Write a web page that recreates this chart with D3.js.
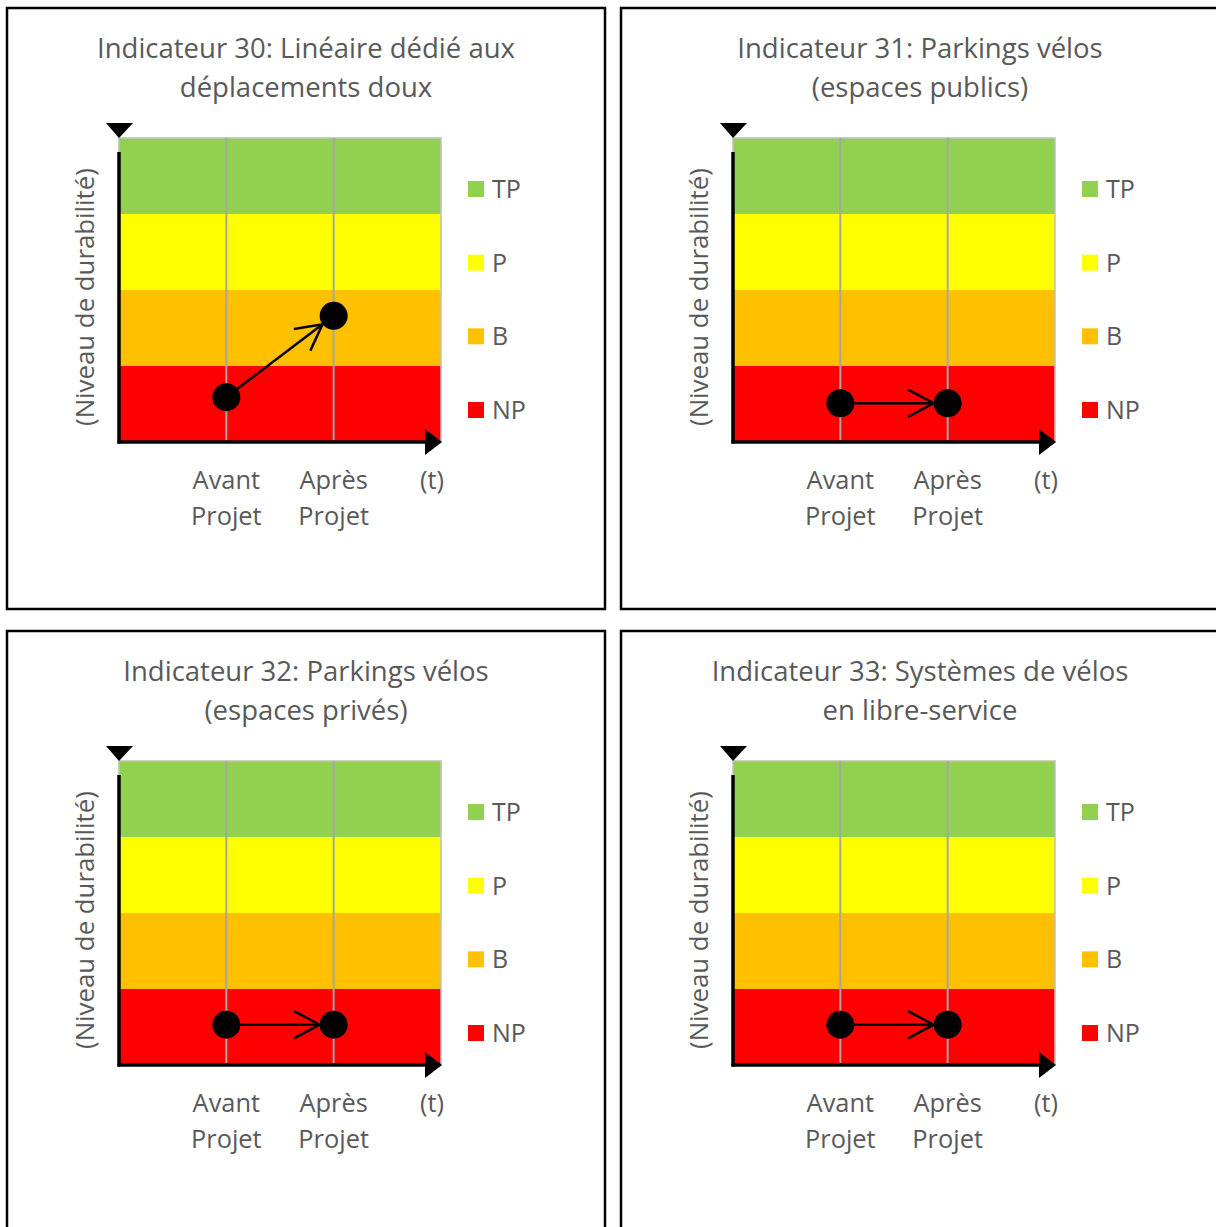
<!DOCTYPE html>
<html>
<head>
<meta charset="utf-8">
<script src="https://cdn.jsdelivr.net/npm/d3@7"></script>
<style>
  body { margin: 0; background: #fff; }
  svg text { font-family: "Open Sans", "Noto Sans", sans-serif; fill: #595959; }
</style>
</head>
<body>
<div id="chart"></div>
<script>
// Panel titles (two lines each)
const titles = [
  ["Indicateur 30: Linéaire dédié aux", "déplacements doux"],
  ["Indicateur 31: Parkings vélos", "(espaces publics)"],
  ["Indicateur 32: Parkings vélos", "(espaces privés)"],
  ["Indicateur 33: Systèmes de vélos", "en libre-service"]
];

// Sustainability levels, bottom to top
const levels = ["NP", "B", "P", "TP"];
const levelColors = ["#FF0000", "#FFC000", "#FFFF00", "#92D050"];

// Time axis
const periods = [["Avant", "Projet"], ["Après", "Projet"]];
const timeLabel = "(t)";

// Level reached before / after project (0..4 scale, one band per level)
const avantValues = [0.59, 0.51, 0.53, 0.53];
const apresValues = [1.66, 0.51, 0.53, 0.53];

const width = 1216, height = 1227;
const panelW = 598, panelH = 601;
const panelOrigins = [[7, 8], [621, 8], [7, 631], [621, 631]];

const svg = d3.select("#chart").append("svg")
  .attr("width", width)
  .attr("height", height);

// scales shared by every panel (panel-local coordinates)
const plot = { left: 112, right: 434, top: 130, bottom: 434 };
const x = d3.scaleLinear().domain([0, 3]).range([plot.left, plot.right]);
const y = d3.scaleLinear().domain([0, levels.length]).range([plot.bottom, plot.top]);
const legendY = d3.scalePoint().domain(d3.reverse(levels)).range([181, 402]);

titles.forEach(function(title, i) {
  const g = svg.append("g")
    .attr("transform", `translate(${panelOrigins[i][0]}, ${panelOrigins[i][1]})`);

  // panel frame
  g.append("rect")
    .attr("width", panelW)
    .attr("height", panelH)
    .attr("fill", "#fff")
    .attr("stroke", "#000")
    .attr("stroke-width", 2.5);

  // title
  g.append("text")
    .attr("x", panelW / 2)
    .attr("text-anchor", "middle")
    .style("font-size", "27.5px")
    .selectAll("tspan")
    .data(title)
    .enter().append("tspan")
    .attr("x", panelW / 2)
    .attr("y", (d, j) => 50 + j * 39)
    .text(d => d);

  // coloured bands
  g.append("g")
    .selectAll("rect")
    .data(levels)
    .enter().append("rect")
    .attr("x", x(0))
    .attr("y", (d, j) => y(j + 1))
    .attr("width", x(3) - x(0))
    .attr("height", (d, j) => y(j) - y(j + 1))
    .attr("fill", (d, j) => levelColors[j]);

  // plot outline (light gray)
  g.append("rect")
    .attr("x", x(0))
    .attr("y", y(levels.length))
    .attr("width", x(3) - x(0))
    .attr("height", y(0) - y(levels.length))
    .attr("fill", "none")
    .attr("stroke", "#BFBFBF")
    .attr("stroke-width", 1.5);

  // vertical grid lines
  g.append("g")
    .selectAll("line")
    .data([1, 2])
    .enter().append("line")
    .attr("x1", d => x(d))
    .attr("x2", d => x(d))
    .attr("y1", y(levels.length))
    .attr("y2", y(0))
    .attr("stroke", "#A6A6A6")
    .attr("stroke-width", 2);

  // y axis with triangle on top
  g.append("line")
    .attr("x1", x(0)).attr("x2", x(0))
    .attr("y1", y(0) + 1.5).attr("y2", y(levels.length) + 14)
    .attr("stroke", "#000").attr("stroke-width", 3.5);
  g.append("path")
    .attr("d", `M${x(0) - 13},${y(levels.length) - 15}L${x(0) + 14},${y(levels.length) - 15}L${x(0)},${y(levels.length)}Z`)
    .attr("fill", "#000");

  // x axis with arrow head
  g.append("line")
    .attr("x1", x(0) - 1.5).attr("x2", x(3) - 14)
    .attr("y1", y(0)).attr("y2", y(0))
    .attr("stroke", "#000").attr("stroke-width", 3.5);
  g.append("path")
    .attr("d", `M${x(3) - 16},${y(0) - 13}L${x(3) - 16},${y(0) + 13}L${x(3) + 1},${y(0)}Z`)
    .attr("fill", "#000");

  // y axis title
  g.append("text")
    .attr("transform", `translate(78, ${(y(0) + y(levels.length)) / 2 + 7}) rotate(-90)`)
    .attr("text-anchor", "middle")
    .attr("dy", "0.35em")
    .style("font-size", "25.8px")
    .text("(Niveau de durabilité)");

  // x labels
  periods.forEach(function(p, k) {
    g.append("text")
      .attr("text-anchor", "middle")
      .style("font-size", "25.4px")
      .selectAll("tspan")
      .data(p)
      .enter().append("tspan")
      .attr("x", x(k + 1))
      .attr("y", (d, j) => 481 + j * 36)
      .text(d => d);
  });
  g.append("text")
    .attr("x", x(3) + 3)
    .attr("y", 481)
    .attr("text-anchor", "end")
    .style("font-size", "25.4px")
    .text(timeLabel);

  // legend
  const leg = g.append("g")
    .selectAll("g")
    .data(levels)
    .enter().append("g")
    .attr("transform", d => `translate(461, ${legendY(d)})`);
  leg.append("rect")
    .attr("y", -8)
    .attr("width", 16)
    .attr("height", 16)
    .attr("fill", (d, j) => levelColors[j]);
  leg.append("text")
    .attr("x", 24)
    .attr("dy", "0.36em")
    .style("font-size", "25px")
    .text(d => d);

  // arrow from "avant" to "apres"
  const p1 = [x(1), y(avantValues[i])];
  const p2 = [x(2), y(apresValues[i])];
  const r = 14;
  const dx = p2[0] - p1[0], dy = p2[1] - p1[1];
  const len = Math.sqrt(dx * dx + dy * dy);
  const ux = dx / len, uy = dy / len;
  const tip = [p2[0] - ux * r, p2[1] - uy * r];
  const a = 28 * Math.PI / 180, arm = 29;
  const rot = (s) => [
    tip[0] - arm * (ux * Math.cos(s * a) - uy * Math.sin(s * a)),
    tip[1] - arm * (ux * Math.sin(s * a) + uy * Math.cos(s * a))
  ];
  const w1 = rot(1), w2 = rot(-1);

  g.append("line")
    .attr("x1", p1[0]).attr("y1", p1[1])
    .attr("x2", tip[0]).attr("y2", tip[1])
    .attr("stroke", "#000").attr("stroke-width", 2.5);
  g.append("path")
    .attr("d", `M${w1[0]},${w1[1]}L${tip[0]},${tip[1]}L${w2[0]},${w2[1]}`)
    .attr("fill", "none")
    .attr("stroke", "#000")
    .attr("stroke-width", 2.5);

  g.append("g")
    .selectAll("circle")
    .data([p1, p2])
    .enter().append("circle")
    .attr("cx", d => d[0])
    .attr("cy", d => d[1])
    .attr("r", r)
    .attr("fill", "#000");
});
</script>
</body>
</html>
